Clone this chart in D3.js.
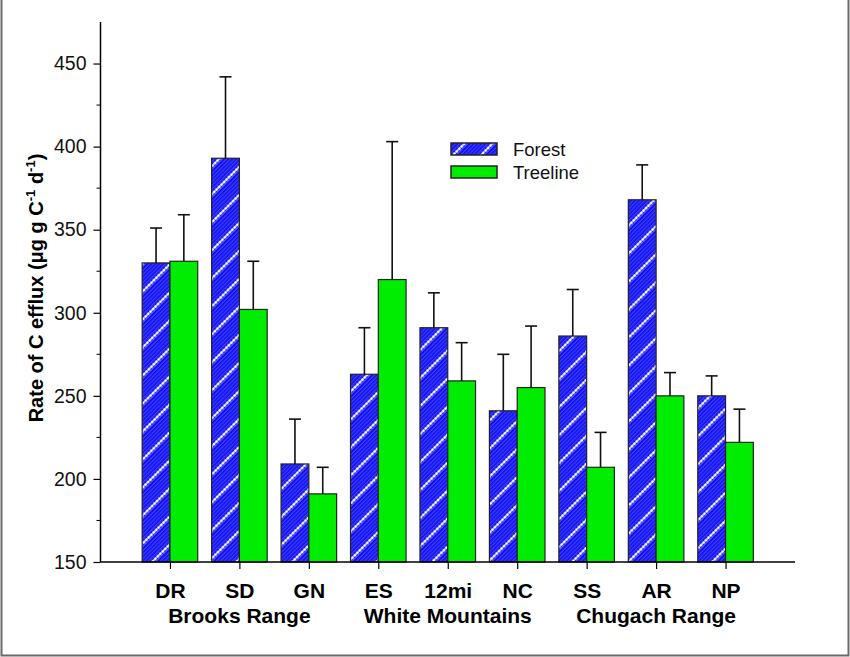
<!DOCTYPE html>
<html>
<head>
<meta charset="utf-8">
<script src="https://cdn.jsdelivr.net/npm/d3@7"></script>
<style>
  html, body { margin: 0; padding: 0; background: #fff; }
  svg { display: block; font-family: "Liberation Sans", Arial, sans-serif; }
</style>
</head>
<body>
<svg id="chart" width="850" height="657"></svg>
<script>
// Sites along the x axis and the region each row of labels belongs to.
const sites        = [ 'DR', 'SD', 'GN', 'ES', '12mi', 'NC', 'SS', 'AR', 'NP' ];
const regions      = [ 'Brooks Range', 'White Mountains', 'Chugach Range' ];
const regionSites  = [ 'SD', '12mi', 'AR' ];

// Mean rates and upper error (same units, µg g C-1 d-1).
const forest       = [ 330, 393, 209, 263, 291, 241, 286, 368, 250 ];
const forestErr    = [  21,  49,  27,  28,  21,  34,  28,  21,  12 ];
const treeline     = [ 331, 302, 191, 320, 259, 255, 207, 250, 222 ];
const treelineErr  = [  28,  29,  16,  83,  23,  37,  21,  14,  20 ];

const yTicks       = [ 150, 200, 250, 300, 350, 400, 450 ];
const yMinorTicks  = [ 175, 225, 275, 325, 375, 425 ];
const seriesNames  = [ 'Forest', 'Treeline' ];

const FONT = '"Liberation Sans", Arial, sans-serif';
const svg = d3.select( '#chart' );

// Outer frame (no top edge in the original).
svg.append( 'path' )
  .attr( 'd', 'M1.5,0 V655.5 H848.5 V0' )
  .attr( 'fill', 'none' )
  .attr( 'stroke', '#6a6a6a' )
  .attr( 'stroke-width', 2 );

// Hatched blue fill for the forest bars.
const defs = svg.append( 'defs' );
const pat  = defs.append( 'pattern' )
  .attr( 'id', 'hatch' )
  .attr( 'patternUnits', 'userSpaceOnUse' )
  .attr( 'width', 28 ).attr( 'height', 19.8 )
  .attr( 'patternTransform', 'rotate(-45)' );
pat.append( 'rect' ).attr( 'width', 28 ).attr( 'height', 19.8 ).attr( 'fill', '#0a0af2' );
d3.range( 0, 19.8, 2.83 ).forEach( y => {
  pat.append( 'line' )
    .attr( 'x1', 0 ).attr( 'x2', 28 ).attr( 'y1', y + 1 ).attr( 'y2', y + 1 )
    .attr( 'stroke', '#5c5cff' ).attr( 'stroke-width', 0.9 );
} );
pat.append( 'line' )
  .attr( 'x1', 0 ).attr( 'x2', 28 ).attr( 'y1', 9.9 ).attr( 'y2', 9.9 )
  .attr( 'stroke', '#d8d8ff' ).attr( 'stroke-width', 1 );
d3.range( 1.75, 28, 3.5 ).forEach( x => {
  pat.append( 'circle' ).attr( 'cx', x ).attr( 'cy', 9.9 ).attr( 'r', 1.5 ).attr( 'fill', '#fff' );
} );

// Scales.
const x = d3.scaleLinear( ).domain( [ 0, sites.length + 1 ] ).range( [ 100.5, 795 ] );
const y = d3.scaleLinear( ).domain( [ 150, 475 ] ).range( [ 562, 22 ] );
const barW = ( x( 1 ) - x( 0 ) ) * 0.4;

const plot = svg.append( 'g' );

// Bars with upper error whiskers.
const drawSeries = ( values, errs, offset, fill ) => {
  plot.selectAll( null )
    .data( values )
    .enter( )
    .append( 'rect' )
    .attr( 'x', ( d, i ) => x( i + 1 ) + offset )
    .attr( 'y', d => y( d ) )
    .attr( 'width', barW )
    .attr( 'height', d => y( 150 ) - y( d ) )
    .attr( 'fill', fill )
    .attr( 'stroke', '#222' )
    .attr( 'stroke-width', 1.2 );

  const err = plot.selectAll( null )
    .data( values )
    .enter( )
    .append( 'g' )
    .attr( 'stroke', '#111' )
    .attr( 'stroke-width', 1.6 );
  err.append( 'line' )
    .attr( 'x1', ( d, i ) => x( i + 1 ) + offset + barW / 2 )
    .attr( 'x2', ( d, i ) => x( i + 1 ) + offset + barW / 2 )
    .attr( 'y1', d => y( d ) )
    .attr( 'y2', ( d, i ) => y( d + errs[i] ) );
  err.append( 'line' )
    .attr( 'x1', ( d, i ) => x( i + 1 ) + offset + barW / 2 - 6 )
    .attr( 'x2', ( d, i ) => x( i + 1 ) + offset + barW / 2 + 6 )
    .attr( 'y1', ( d, i ) => y( d + errs[i] ) )
    .attr( 'y2', ( d, i ) => y( d + errs[i] ) );
};
drawSeries( forest,   forestErr,   -barW, 'url(#hatch)' );
drawSeries( treeline, treelineErr, 0,     '#00ec00' );

// Y axis.
const yAxis = svg.append( 'g' )
  .attr( 'transform', `translate(${x( 0 )},0)` )
  .call( d3.axisLeft( y ).tickValues( yTicks ).tickSize( 7 ).tickPadding( 7 ) );
yAxis.select( '.domain' ).attr( 'd', `M0,${y( 150 )}V${y( 475 )}` ).attr( 'stroke-width', 1.5 );
yAxis.selectAll( '.tick line' ).attr( 'stroke-width', 1.2 );
yAxis.selectAll( 'text' )
  .attr( 'font-size', 19.5 ).attr( 'fill', '#111' )
  .style( 'font-family', FONT );
svg.append( 'g' )
  .selectAll( 'line' )
  .data( yMinorTicks )
  .enter( )
  .append( 'line' )
  .attr( 'x1', x( 0 ) - 4 ).attr( 'x2', x( 0 ) )
  .attr( 'y1', d => y( d ) ).attr( 'y2', d => y( d ) )
  .attr( 'stroke', '#000' ).attr( 'stroke-width', 1 );

// X axis.
const xAxis = svg.append( 'g' )
  .attr( 'transform', `translate(0,${y( 150 )})` )
  .call( d3.axisBottom( x ).tickValues( d3.range( 1, sites.length + 1 ) )
    .tickFormat( d => sites[d - 1] ).tickSize( 7 ).tickPadding( 14 ) );
xAxis.select( '.domain' ).attr( 'd', `M${x( 0 )},0H${x( sites.length + 1 )}` ).attr( 'stroke-width', 1.5 );
xAxis.selectAll( '.tick line' ).attr( 'stroke-width', 1.2 );
xAxis.selectAll( 'text' )
  .attr( 'font-size', 21 ).attr( 'font-weight', 'bold' ).attr( 'fill', '#000' )
  .style( 'font-family', FONT );

// Region labels under the site labels.
svg.append( 'g' )
  .selectAll( 'text' )
  .data( regions )
  .enter( )
  .append( 'text' )
  .attr( 'x', ( d, i ) => x( sites.indexOf( regionSites[i] ) + 1 ) )
  .attr( 'y', 623 )
  .attr( 'text-anchor', 'middle' )
  .attr( 'font-size', 21 )
  .attr( 'font-weight', 'bold' )
  .text( d => d );

// Y axis title with superscripts.
const yTitle = svg.append( 'text' )
  .attr( 'transform', 'translate(43,288) rotate(-90)' )
  .attr( 'text-anchor', 'middle' )
  .attr( 'font-size', 20 )
  .attr( 'font-weight', 'bold' );
yTitle.append( 'tspan' ).text( 'Rate of C efflux (μg g C' );
yTitle.append( 'tspan' ).attr( 'font-size', 13 ).attr( 'dy', -8 ).text( '-1' );
yTitle.append( 'tspan' ).attr( 'dy', 8 ).text( ' d' );
yTitle.append( 'tspan' ).attr( 'font-size', 13 ).attr( 'dy', -8 ).text( '-1' );
yTitle.append( 'tspan' ).attr( 'dy', 8 ).text( ')' );

// Legend.
const legend = svg.append( 'g' ).attr( 'transform', 'translate(451,143)' );
const legendFills = [ 'url(#hatch)', '#00ec00' ];
seriesNames.forEach( ( name, i ) => {
  legend.append( 'rect' )
    .attr( 'x', 0 ).attr( 'y', i * 23 )
    .attr( 'width', 46 ).attr( 'height', 12 )
    .attr( 'fill', legendFills[i] )
    .attr( 'stroke', '#222' ).attr( 'stroke-width', 1.5 );
  legend.append( 'text' )
    .attr( 'x', 62 ).attr( 'y', i * 23 + 13 )
    .attr( 'font-size', 18.5 )
    .attr( 'fill', '#111' )
    .text( name );
} );
</script>
</body>
</html>
